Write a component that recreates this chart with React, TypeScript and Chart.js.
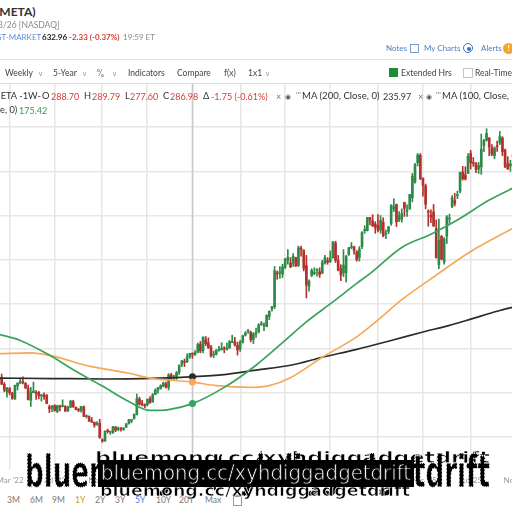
import React, { useEffect, useRef } from 'react';
import { Chart, registerables } from 'chart.js';

Chart.register(...registerables);

// ---------- DATA ----------
// Weekly candles [open, high, low, close]; week index 0 = week of 31 Jan 2022
const firstWeekA = 1;
const ohlcA: number[][] = [
  [234, 242, 218, 219.6], [219, 223, 202, 206.2], [202, 212, 190, 210.5], [209, 212, 195, 200.1], [199, 201, 185, 187.6],
  [186, 217, 185, 216.5], [215, 222, 206, 221.8], [222, 233, 220, 224.9], [225, 236, 220, 222.3], [221, 223, 210, 210.2],
  [210, 217, 184, 184.1], [183, 212, 169, 200.5], [200, 224, 200, 203.8], [200, 205, 185, 198.6], [201, 203, 186, 193.5],
  [193, 196, 181, 195.1], [195, 200, 185, 190.8], [194, 196, 175, 175.6], [168, 172, 155, 163.7], [166, 171, 157, 170.2],
  [171, 173, 158, 160.0], [158, 172, 155, 170.7], [168, 172, 159, 167.5], [169, 184, 168, 169.3], [169, 171, 157, 159.1],
  [159, 170, 157, 167.1], [167, 183, 167, 180.9], [180, 183, 167, 168.0], [167, 168, 161, 161.8], [162, 165, 157, 160.3],
  [160, 169, 156, 169.2], [168, 170, 146, 146.3], [146, 150, 143, 147.3], [146, 148, 135, 135.7], [137, 144, 133, 133.5],
  [133, 134, 122, 126.8], [129, 135, 126, 130.0], [131, 140, 97, 99.2], [94, 96, 88, 90.8], [91, 114, 90, 113.0],
  [115, 118, 109, 112.1], [111, 112, 106, 111.4], [110, 124, 108, 123.5], [122, 124, 112, 115.9], [117, 123, 114, 119.4],
  [119, 121, 113, 118.0], [117, 121, 115, 120.3],
];
const firstWeekB = 48;
const ohlcB: number[][] = [
  [122, 130, 122, 130.0], [131, 140, 129, 139.0], [136, 140, 132, 139.4], [142, 152, 140, 151.7], [150, 197, 150, 186.5],
  [186, 190, 172, 174.2], [175, 183, 170, 173.0], [172, 175, 166, 170.4], [173, 186, 170, 185.3], [186, 191, 176, 178.0],
  [180, 198, 178, 195.6], [196, 209, 196, 206.0], [206, 212, 199, 211.9], [210, 218, 208, 216.1], [215, 224, 213, 221.5],
  [220, 224, 210, 212.9], [212, 243, 206, 240.3], [240, 244, 230, 232.8], [233, 240, 230, 233.8], [234, 248, 230, 245.6],
  [246, 263, 241, 262.0], [264, 272, 259, 272.6], [271, 276, 259, 268.7], [270, 288, 268, 281.0], [281, 289, 278, 288.7],
  [288.7, 289.79, 277.6, 286.98], [286, 295, 284, 290.5], [291, 312, 290, 308.9], [310, 316, 290, 294.3], [295, 326, 290, 325.5],
  [320, 327, 306, 310.7], [313, 324, 300, 301.6], [303, 307, 280, 283.3], [285, 294, 279, 285.5], [287, 297, 285, 296.4],
  [296, 305, 294, 297.9], [297, 313, 296, 300.3], [301, 304, 290, 299.1], [298, 312, 296, 300.2], [301, 318, 300, 315.4],
  [313, 330, 313, 314.7], [315, 325, 305, 308.7], [307, 314, 285, 296.7], [299, 318, 293, 314.6], [314, 330, 312, 328.8],
  [330, 338, 328, 335.0], [338, 343, 334, 338.2], [336, 339, 315, 320.0], [320, 336, 311, 332.8], [333, 346, 325, 334.9],
  [338, 356, 335, 353.4], [354, 361, 352, 354.0],
];
const firstWeekC = 100;
const ohlcC: number[][] = [
  [351, 358, 340, 352.0], [349, 376, 349, 374.5], [372, 385, 365, 383.5], [389, 395, 384, 394.1], [394, 485, 390, 475.0],
  [469, 475, 456, 468.1], [470, 485, 458, 473.3], [468, 490, 460, 484.0], [484, 503, 480, 502.3], [499, 523, 490, 506.0],
  [493, 505, 482, 484.1], [492, 514, 485, 508.1], [505, 506, 485, 485.6], [487, 531, 485, 527.3], [526, 531, 508, 523.2],
  [521, 523, 475, 481.1], [487, 510, 414, 443.3], [440, 455, 429, 452.0], [465, 480, 462, 476.2], [469, 482, 466, 471.9],
  [476, 480, 463, 478.2], [473, 482, 460, 466.8], [470, 499, 469, 494.1], [493, 510, 490, 504.2], [498, 505, 490, 494.8],
  [496, 520, 494, 504.2], [505, 542, 504, 539.9], [538, 542, 494, 498.9], [499, 510, 475, 476.8], [480, 489, 453, 465.7],
  [470, 523, 462, 488.1], [471, 510, 450, 508.2], [512, 528, 510, 527.4], [528, 539, 525, 528.0], [529, 531, 513, 521.3],
  [518, 521, 497, 500.3], [505, 530, 497, 524.6], [530, 564, 525, 561.4], [566, 577, 560, 567.4], [566, 596, 565, 595.9],
  [595, 596, 579, 590.0], [588, 602, 575, 576.9], [581, 586, 560, 573.3], [578, 602, 563, 567.2], [567, 600, 560, 589.3],
  [585, 595, 552, 554.1], [558, 567, 548, 559.1], [564, 576, 559, 574.3], [582, 624, 578, 623.8], [615, 638, 609, 620.4],
  [625, 626, 575, 585.3], [590, 609, 586, 599.8],
];
const firstWeekD = 152;
const ohlcD: number[][] = [
  [592, 615, 585, 604.6], [630, 630, 598, 615.9], [610, 624, 598, 612.3], [615, 648, 614, 647.5], [640, 695, 631, 689.2],
  [675, 718, 673, 714.5], [719, 740, 712, 736.7], [736, 740, 681, 683.6], [684, 685, 644, 668.2], [667, 671, 615, 625.7],
  [609, 613, 576, 607.6], [601, 613, 584, 596.3], [608, 625, 575, 576.7], [571, 590, 504, 504.7], [489, 592, 480, 543.6],
  [553, 555, 500, 501.5], [495, 550, 490, 547.3], [553, 600, 537, 597.0], [592, 603, 582, 592.5], [620, 645, 618, 640.3],
  [634, 650, 622, 627.1], [645, 655, 638, 647.5], [655, 698, 651, 697.7], [698, 711, 680, 682.9], [692, 710, 680, 682.4],
  [695, 740, 695, 733.6], [740, 747, 705, 719.0], [718, 731, 711, 717.5], [717, 720, 697, 704.3], [705, 720, 695, 712.7],
  [710, 784, 693, 750.0], [758, 772, 744, 769.3], [770, 796, 768, 785.2], [775, 776, 735, 754.8], [753, 760, 735, 738.7],
  [735, 755, 728, 752.5], [757, 768, 745, 755.6], [764, 790, 760, 778.4], [775, 778, 735, 743.8], [748, 750, 708, 710.6],
  [717, 733, 704, 705.3], [712, 725, 700, 716.9], [733, 745, 724, 738.4], [750, 760, 650, 648.4],
];

// Moving averages [week, value]
const ma200: number[][] = [
  [0, 233], [20, 232], [40, 231], [60, 233], [73, 235.97], [85, 241], [97, 251], [110, 262],
  [122, 280], [135, 298], [148, 318], [160, 337], [170, 352], [178, 366], [188, 384], [196, 396],
];
const ma100: number[][] = [
  [0, 288], [12, 290], [20, 283], [34, 260], [49, 244], [57, 233], [73, 224], [82, 216], [95, 212],
  [102, 216], [110, 234], [122, 280], [135, 326], [143, 364], [152, 410], [163, 457], [177, 515], [196, 578],
];
const ma50: number[][] = [
  [0, 332], [8, 318], [19, 285], [28, 252], [39, 215], [49, 180], [57, 160], [64, 162], [73, 175.42],
  [85, 212], [97, 262], [107, 313], [116, 360], [126, 405], [135, 447], [140, 469], [152, 528],
  [163, 558], [173, 590], [185, 635], [196, 668],
];

const gridWeeks = [4.14, 21.1, 38.9, 55.8, 73, 91.3, 107.9, 124.9, 143, 160, 178.1, 195.6];
const gridLabels = ["Mar '22", "Jul '22", "Nov '22", "Mar '23", "Jul '23", "Nov '23", "Mar '24", "Jul '24", "Nov '24", "Mar '25", "Jul '25", "Nov '25"];
const priceTicks = [100, 200, 300, 400, 500, 600, 700, 800];
const crossWeek = 73;
const xMin = 0.37;
const xMax = 193.6;
const yMin = 25.5;
const yMax = 897;

// ---------- STYLE ----------
const UP = '#2f8a48';
const DOWN = '#b3302d';
const MA50_C = '#3aa35c';
const MA100_C = '#f7a858';
const MA200_C = '#2b2b2b';
const GRID = '#e6e6e6';
const FONT = 'Lato, "Open Sans", sans-serif';

const blocks: [number, number[][]][] = [
  [firstWeekA, ohlcA], [firstWeekB, ohlcB], [firstWeekC, ohlcC], [firstWeekD, ohlcD],
];

function ChartCanvas() {
  const ref = useRef<HTMLCanvasElement | null>(null);
  useEffect(() => {
    const candles = blocks.flatMap(([w0, rows]) =>
      rows.map((r, i) => ({ x: w0 + i, o: r[0], h: r[1], l: r[2], c: r[3] }))
    );
    const colorOf = (ctx: any) => (ctx.raw && ctx.raw.up ? UP : DOWN);
    const maSet = (arr: number[][], color: string) => ({
      type: 'line',
      data: arr.map(([x, y]) => ({ x, y })),
      borderColor: color,
      borderWidth: 1.7,
      pointRadius: (ctx: any) => (ctx.raw && ctx.raw.x === crossWeek ? 3.5 : 0),
      pointBackgroundColor: color,
      pointBorderWidth: 0,
      cubicInterpolationMode: 'monotone',
      fill: false,
      order: 1,
      clip: 0,
    });
    const overlay = {
      id: 'overlay',
      beforeDatasetsDraw(chart: any) {
        const { ctx, chartArea, scales } = chart;
        const x = scales.x.getPixelForValue(crossWeek);
        ctx.save();
        ctx.strokeStyle = '#c8c8c8';
        ctx.lineWidth = 1.5;
        ctx.beginPath();
        ctx.moveTo(x, chartArea.top);
        ctx.lineTo(x, chartArea.bottom);
        ctx.stroke();
        ctx.restore();
      },
      afterDraw(chart: any) {
        const { ctx, chartArea, scales } = chart;
        ctx.save();
        ctx.font = '8px ' + FONT;
        ctx.fillStyle = '#9c9c9c';
        ctx.textAlign = 'center';
        ctx.textBaseline = 'middle';
        gridWeeks.forEach((w, i) => {
          ctx.fillText(gridLabels[i], scales.x.getPixelForValue(w), chartArea.bottom + 10);
        });
        ctx.restore();
      },
    };
    const chart = new Chart(ref.current as HTMLCanvasElement, {
      type: 'bar',
      data: {
        datasets: [
          maSet(ma50, MA50_C),
          maSet(ma100, MA100_C),
          maSet(ma200, MA200_C),
          {
            type: 'bar',
            data: candles.map((k) => ({ x: k.x, y: [k.o, k.c], up: k.c >= k.o })),
            backgroundColor: colorOf,
            barThickness: 2,
            minBarLength: 1,
            grouped: false,
            borderWidth: 0,
            order: 2,
            clip: 0,
          },
          {
            type: 'bar',
            data: candles.map((k) => ({ x: k.x, y: [k.l, k.h], up: k.c >= k.o })),
            backgroundColor: colorOf,
            barThickness: 1,
            grouped: false,
            borderWidth: 0,
            order: 3,
            clip: 0,
          },
        ] as any,
      },
      options: {
        animation: false,
        responsive: false,
        maintainAspectRatio: false,
        events: [],
        layout: { padding: { left: 0, right: 0, top: 0, bottom: 20 } },
        plugins: { legend: { display: false }, tooltip: { enabled: false } },
        scales: {
          x: {
            type: 'linear',
            min: xMin,
            max: xMax,
            offset: false,
            grid: { color: GRID, lineWidth: 1.5, drawTicks: false, offset: false },
            border: { display: false },
            ticks: { display: false },
            afterBuildTicks: (s: any) => {
              s.ticks = gridWeeks.map((v) => ({ value: v }));
            },
          },
          y: {
            type: 'linear',
            min: yMin,
            max: yMax,
            grid: { color: GRID, lineWidth: 1.5, drawTicks: false },
            border: { display: false },
            ticks: { display: false },
            afterBuildTicks: (s: any) => {
              s.ticks = priceTicks.map((v) => ({ value: v }));
            },
            afterFit: (s: any) => {
              s.width = 0;
            },
          },
        },
      } as any,
      plugins: [overlay],
    });
    return () => chart.destroy();
  }, []);
  return (
    <canvas
      ref={ref}
      width={512}
      height={406}
      style={{ position: 'absolute', left: 0, top: 84, width: 512, height: 406 }}
    />
  );
}

function T(props: { x: number; y: number; s?: number; c?: string; b?: boolean; children: React.ReactNode }) {
  const s = props.s ?? 8.5;
  return (
    <span
      style={{
        position: 'absolute',
        left: props.x,
        top: props.y - s / 2,
        fontSize: s,
        lineHeight: `${s}px`,
        color: props.c ?? '#444',
        fontWeight: props.b ? 700 : 400,
        whiteSpace: 'nowrap',
        fontFamily: FONT,
      }}
    >
      {props.children}
    </span>
  );
}

const RED = '#d5403a';
const WM = 'bluemong.cc/xyhdiggadgetdrift';

export default function App() {
  return (
    <div
      style={{
        position: 'fixed',
        left: 0,
        top: 0,
        width: 512,
        height: 512,
        overflow: 'hidden',
        background: '#fff',
        fontFamily: FONT,
      }}
    >
      <ChartCanvas />

      {/* header */}
      <T x={-4} y={12} s={12} c="#333" b>(META)</T>
      <T x={-2} y={25} s={8.5} c="#8a8a8a">3/26 [NASDAQ]</T>
      <T x={-14} y={37} s={8} c="#5b8ed6">POST-MARKET</T>
      <T x={42} y={37} s={8} c="#222" b>632.96</T>
      <T x={69} y={37} s={8} c={RED} b>-2.33 (-0.37%)</T>
      <T x={123} y={37} s={8} c="#8a8a8a">19:59 ET</T>

      <T x={386} y={48} s={8} c="#4f7cc0">Notes</T>
      <span style={{ position: 'absolute', left: 410, top: 44, width: 7, height: 7, border: '1px solid #7d9ccb' }} />
      <T x={424} y={48} s={8} c="#4f7cc0">My Charts</T>
      <span style={{ position: 'absolute', left: 463, top: 43, width: 8, height: 8, borderRadius: 6, border: '1.5px solid #3d6fc0' }} />
      <span style={{ position: 'absolute', left: 466.5, top: 46.5, width: 4, height: 4, borderRadius: 2, background: '#3d6fc0' }} />
      <T x={481} y={48} s={8} c="#4f7cc0">Alerts</T>
      <span style={{ position: 'absolute', left: 503, top: 43, width: 11, height: 11, borderRadius: 6, background: '#f5a623', color: '#fff', fontSize: 8, lineHeight: '11px', textAlign: 'center', fontWeight: 700 }}>!</span>

      <div style={{ position: 'absolute', left: 0, top: 59, width: 512, height: 1, background: '#e4e4e4' }} />

      {/* toolbar */}
      <T x={5} y={73}>Weekly</T>
      <T x={38} y={73} s={7} c="#999">∨</T>
      <T x={53} y={73}>5-Year</T>
      <T x={82} y={73} s={7} c="#999">∨</T>
      <T x={97} y={73} s={8.5} c="#666">⁰⁄₀</T>
      <T x={112} y={73} s={7} c="#999">∨</T>
      <T x={128} y={73}>Indicators</T>
      <T x={177} y={73}>Compare</T>
      <T x={224} y={73}>f(x)</T>
      <T x={248} y={73}>1x1</T>
      <T x={265} y={73} s={7} c="#999">∨</T>
      <span style={{ position: 'absolute', left: 389, top: 68, width: 9, height: 9, background: '#1d8a3a' }} />
      <T x={401} y={73}>Extended Hrs</T>
      <span style={{ position: 'absolute', left: 463, top: 68, width: 8, height: 8, border: '1px solid #c4c4c4', background: '#fff' }} />
      <T x={475} y={73}>Real-Time</T>

      <div style={{ position: 'absolute', left: 0, top: 83, width: 512, height: 1, background: '#dcdcdc' }} />

      {/* legend */}
      <T x={-8} y={96} s={9.3} c="#333">META -1W-</T>
      <T x={42} y={96} s={9.3} c="#333">O</T>
      <T x={51} y={96} s={9} c={RED}>288.70</T>
      <T x={84} y={96} s={9.3} c="#333">H</T>
      <T x={92} y={96} s={9} c={RED}>289.79</T>
      <T x={125} y={96} s={9.3} c="#333">L</T>
      <T x={130} y={96} s={9} c={RED}>277.60</T>
      <T x={163} y={96} s={9.3} c="#333">C</T>
      <T x={170} y={96} s={9} c={RED}>286.98</T>
      <T x={203} y={96} s={9.3} c="#333">Δ</T>
      <T x={211} y={96} s={9} c={RED}>-1.75 (-0.61%)</T>
      <T x={276} y={96} s={9} c="#777">×</T>
      <T x={285} y={96} s={7} c="#555">◉</T>
      <T x={296} y={95} s={8} c="#777">'''</T>
      <T x={302} y={96} s={9.6} c="#333">MA (200, Close, 0)</T>
      <T x={383} y={96} s={9} c="#333">235.97</T>
      <T x={418} y={96} s={9} c="#777">×</T>
      <T x={426} y={96} s={7} c="#555">◉</T>
      <T x={436} y={95} s={8} c="#777">'''</T>
      <T x={442} y={96} s={9.6} c="#333">MA (100, Close,</T>
      <T x={0} y={110} s={9.3} c="#333">e, 0)</T>
      <T x={19} y={110} s={9} c="#2f9e4f">175.42</T>

      {/* range bar */}
      <T x={7} y={500} s={8.5} c="#777">3M</T>
      <T x={30} y={500} s={8.5} c="#777">6M</T>
      <T x={52} y={500} s={8.5} c="#777">9M</T>
      <T x={75} y={500} s={8.5} c="#c2a12e">1Y</T>
      <T x={95} y={500} s={8.5} c="#777">2Y</T>
      <T x={115} y={500} s={8.5} c="#777">3Y</T>
      <T x={135} y={500} s={8.5} c="#3b7dd8">5Y</T>
      <T x={156} y={500} s={8.5} c="#777">10Y</T>
      <T x={179} y={500} s={8.5} c="#777">20Y</T>
      <T x={205} y={500} s={8.5} c="#777">Max</T>
      <span style={{ position: 'absolute', left: 233, top: 495, width: 7, height: 8, border: '1px solid #999', borderTopWidth: 2 }} />

      {/* watermark */}
      <svg width={512} height={512} style={{ position: 'absolute', left: 0, top: 0, pointerEvents: 'none' }}>
        <text x={95} y={463} textLength={395} lengthAdjust="spacingAndGlyphs" fontSize={15} fontWeight="bold" fontFamily="DejaVu Sans" fill="#000" stroke="#fff" strokeWidth={0.6}>{WM}</text>
        <text x={25} y={487} textLength={465} lengthAdjust="spacingAndGlyphs" fontSize={45} fontWeight="bold" fontFamily="DejaVu Sans" fill="#000" stroke="#fff" strokeWidth={1.3} strokeDasharray="2 1.5">{WM}</text>
        <text x={100} y={496} textLength={310} lengthAdjust="spacingAndGlyphs" fontSize={15} fontWeight="bold" fontFamily="DejaVu Sans" fill="#000" stroke="#fff" strokeWidth={0.6}>{WM}</text>
        <rect x={98} y={460} width={316} height={27} fill="#000" />
        <text x={101} y={480} textLength={310} lengthAdjust="spacingAndGlyphs" fontSize={22} fontFamily="DejaVu Sans" fill="#fff" stroke="#000" strokeWidth={0.8}>{WM}</text>
      </svg>
    </div>
  );
}
